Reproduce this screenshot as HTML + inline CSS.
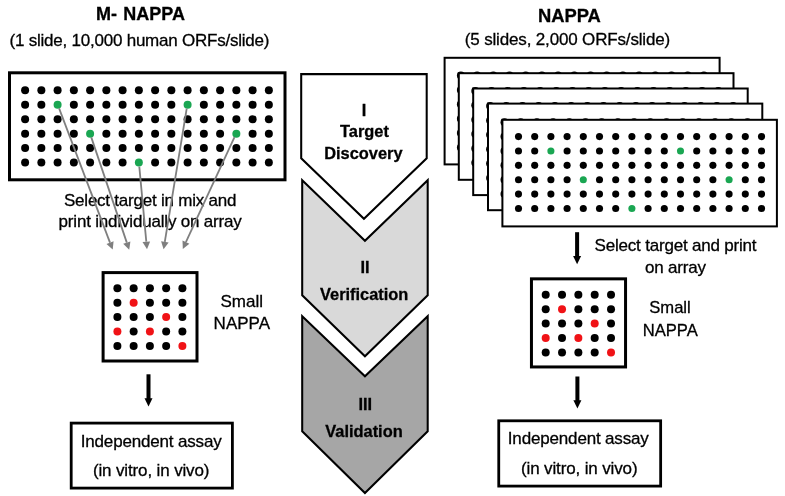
<!DOCTYPE html>
<html><head><meta charset="utf-8"><title>NAPPA</title>
<style>html,body{margin:0;padding:0;background:#fff;}svg{display:block;}text{font-family:"Liberation Sans",sans-serif;fill:#000;stroke:#000;stroke-width:0.3px;}</style></head>
<body>
<svg width="785" height="496" viewBox="0 0 785 496">
<defs><filter id="gs" x="0" y="0" width="785" height="496" filterUnits="userSpaceOnUse" color-interpolation-filters="sRGB"><feColorMatrix type="saturate" values="0"/></filter></defs>
<rect x="0" y="0" width="785" height="496" fill="#fff"/>
<rect x="9.5" y="72.8" width="275.5" height="107" fill="#fff" stroke="#000" stroke-width="3"/>
<g fill="#000"><circle cx="25.10" cy="90.20" r="4.0"/><circle cx="41.35" cy="90.20" r="4.0"/><circle cx="57.60" cy="90.20" r="4.0"/><circle cx="73.85" cy="90.20" r="4.0"/><circle cx="90.10" cy="90.20" r="4.0"/><circle cx="106.35" cy="90.20" r="4.0"/><circle cx="122.60" cy="90.20" r="4.0"/><circle cx="138.85" cy="90.20" r="4.0"/><circle cx="155.10" cy="90.20" r="4.0"/><circle cx="171.35" cy="90.20" r="4.0"/><circle cx="187.60" cy="90.20" r="4.0"/><circle cx="203.85" cy="90.20" r="4.0"/><circle cx="220.10" cy="90.20" r="4.0"/><circle cx="236.35" cy="90.20" r="4.0"/><circle cx="252.60" cy="90.20" r="4.0"/><circle cx="268.85" cy="90.20" r="4.0"/><circle cx="25.10" cy="104.68" r="4.0"/><circle cx="41.35" cy="104.68" r="4.0"/><circle cx="73.85" cy="104.68" r="4.0"/><circle cx="90.10" cy="104.68" r="4.0"/><circle cx="106.35" cy="104.68" r="4.0"/><circle cx="122.60" cy="104.68" r="4.0"/><circle cx="138.85" cy="104.68" r="4.0"/><circle cx="155.10" cy="104.68" r="4.0"/><circle cx="171.35" cy="104.68" r="4.0"/><circle cx="203.85" cy="104.68" r="4.0"/><circle cx="220.10" cy="104.68" r="4.0"/><circle cx="236.35" cy="104.68" r="4.0"/><circle cx="252.60" cy="104.68" r="4.0"/><circle cx="268.85" cy="104.68" r="4.0"/><circle cx="25.10" cy="119.16" r="4.0"/><circle cx="41.35" cy="119.16" r="4.0"/><circle cx="57.60" cy="119.16" r="4.0"/><circle cx="73.85" cy="119.16" r="4.0"/><circle cx="90.10" cy="119.16" r="4.0"/><circle cx="106.35" cy="119.16" r="4.0"/><circle cx="122.60" cy="119.16" r="4.0"/><circle cx="138.85" cy="119.16" r="4.0"/><circle cx="155.10" cy="119.16" r="4.0"/><circle cx="171.35" cy="119.16" r="4.0"/><circle cx="187.60" cy="119.16" r="4.0"/><circle cx="203.85" cy="119.16" r="4.0"/><circle cx="220.10" cy="119.16" r="4.0"/><circle cx="236.35" cy="119.16" r="4.0"/><circle cx="252.60" cy="119.16" r="4.0"/><circle cx="268.85" cy="119.16" r="4.0"/><circle cx="25.10" cy="133.64" r="4.0"/><circle cx="41.35" cy="133.64" r="4.0"/><circle cx="57.60" cy="133.64" r="4.0"/><circle cx="73.85" cy="133.64" r="4.0"/><circle cx="106.35" cy="133.64" r="4.0"/><circle cx="122.60" cy="133.64" r="4.0"/><circle cx="138.85" cy="133.64" r="4.0"/><circle cx="155.10" cy="133.64" r="4.0"/><circle cx="171.35" cy="133.64" r="4.0"/><circle cx="187.60" cy="133.64" r="4.0"/><circle cx="203.85" cy="133.64" r="4.0"/><circle cx="220.10" cy="133.64" r="4.0"/><circle cx="252.60" cy="133.64" r="4.0"/><circle cx="268.85" cy="133.64" r="4.0"/><circle cx="25.10" cy="148.12" r="4.0"/><circle cx="41.35" cy="148.12" r="4.0"/><circle cx="57.60" cy="148.12" r="4.0"/><circle cx="73.85" cy="148.12" r="4.0"/><circle cx="90.10" cy="148.12" r="4.0"/><circle cx="106.35" cy="148.12" r="4.0"/><circle cx="122.60" cy="148.12" r="4.0"/><circle cx="138.85" cy="148.12" r="4.0"/><circle cx="155.10" cy="148.12" r="4.0"/><circle cx="171.35" cy="148.12" r="4.0"/><circle cx="187.60" cy="148.12" r="4.0"/><circle cx="203.85" cy="148.12" r="4.0"/><circle cx="220.10" cy="148.12" r="4.0"/><circle cx="236.35" cy="148.12" r="4.0"/><circle cx="252.60" cy="148.12" r="4.0"/><circle cx="268.85" cy="148.12" r="4.0"/><circle cx="25.10" cy="162.60" r="4.0"/><circle cx="41.35" cy="162.60" r="4.0"/><circle cx="57.60" cy="162.60" r="4.0"/><circle cx="73.85" cy="162.60" r="4.0"/><circle cx="90.10" cy="162.60" r="4.0"/><circle cx="106.35" cy="162.60" r="4.0"/><circle cx="122.60" cy="162.60" r="4.0"/><circle cx="155.10" cy="162.60" r="4.0"/><circle cx="171.35" cy="162.60" r="4.0"/><circle cx="187.60" cy="162.60" r="4.0"/><circle cx="203.85" cy="162.60" r="4.0"/><circle cx="220.10" cy="162.60" r="4.0"/><circle cx="236.35" cy="162.60" r="4.0"/><circle cx="252.60" cy="162.60" r="4.0"/><circle cx="268.85" cy="162.60" r="4.0"/></g><circle cx="57.60" cy="104.68" r="4.0" fill="#1aa652"/><circle cx="187.60" cy="104.68" r="4.0" fill="#1aa652"/><circle cx="90.10" cy="133.64" r="4.0" fill="#1aa652"/><circle cx="236.35" cy="133.64" r="4.0" fill="#1aa652"/><circle cx="138.85" cy="162.60" r="4.0" fill="#1aa652"/>
<rect x="103.1" y="272.6" width="93.9" height="88.4" fill="#fff" stroke="#000" stroke-width="3"/>
<g fill="#000"><circle cx="117.40" cy="288.20" r="4.0"/><circle cx="133.65" cy="288.20" r="4.0"/><circle cx="149.90" cy="288.20" r="4.0"/><circle cx="166.15" cy="288.20" r="4.0"/><circle cx="182.40" cy="288.20" r="4.0"/><circle cx="117.40" cy="302.63" r="4.0"/><circle cx="149.90" cy="302.63" r="4.0"/><circle cx="166.15" cy="302.63" r="4.0"/><circle cx="182.40" cy="302.63" r="4.0"/><circle cx="117.40" cy="317.06" r="4.0"/><circle cx="133.65" cy="317.06" r="4.0"/><circle cx="149.90" cy="317.06" r="4.0"/><circle cx="182.40" cy="317.06" r="4.0"/><circle cx="133.65" cy="331.49" r="4.0"/><circle cx="166.15" cy="331.49" r="4.0"/><circle cx="182.40" cy="331.49" r="4.0"/><circle cx="117.40" cy="345.92" r="4.0"/><circle cx="133.65" cy="345.92" r="4.0"/><circle cx="149.90" cy="345.92" r="4.0"/><circle cx="166.15" cy="345.92" r="4.0"/></g><circle cx="133.65" cy="302.63" r="4.0" fill="#f01216"/><circle cx="166.15" cy="317.06" r="4.0" fill="#f01216"/><circle cx="117.40" cy="331.49" r="4.0" fill="#f01216"/><circle cx="149.90" cy="331.49" r="4.0" fill="#f01216"/><circle cx="182.40" cy="345.92" r="4.0" fill="#f01216"/>
<rect x="146.50" y="374.3" width="4.0" height="24.90" fill="#000"/><polygon points="148.5,406.6 144.5,398.20000000000005 152.5,398.20000000000005" fill="#000"/>
<rect x="71.2" y="423.1" width="161.2" height="65" fill="#fff" stroke="#000" stroke-width="2.8"/>
<polygon points="301.2,74.1 426.7,74.1 426.7,158.2 363.95,218.75 301.2,158.2" fill="#fff" stroke="#000" stroke-width="2.05" stroke-linejoin="miter"/>
<polygon points="302.2,180.2 364.95,240.85 427.7,180.2 427.7,295.2 364.95,356.25 302.2,295.2" fill="#d9d9d9" stroke="#000" stroke-width="2.05" stroke-linejoin="miter"/>
<polygon points="302.2,316.2 364.95,376.35 427.7,316.2 427.7,431.3 364.95,493 302.2,431.3" fill="#a6a6a6" stroke="#000" stroke-width="2.05" stroke-linejoin="miter"/>
<rect x="444.60" y="57.80" width="275.00" height="106.6" fill="#fff" stroke="#000" stroke-width="2"/>
<g fill="#000"><circle cx="460.90" cy="75.60" r="4.0"/><circle cx="477.10" cy="75.60" r="4.0"/><circle cx="493.30" cy="75.60" r="4.0"/><circle cx="509.50" cy="75.60" r="4.0"/><circle cx="525.70" cy="75.60" r="4.0"/><circle cx="541.90" cy="75.60" r="4.0"/><circle cx="558.10" cy="75.60" r="4.0"/><circle cx="574.30" cy="75.60" r="4.0"/><circle cx="590.50" cy="75.60" r="4.0"/><circle cx="606.70" cy="75.60" r="4.0"/><circle cx="622.90" cy="75.60" r="4.0"/><circle cx="639.10" cy="75.60" r="4.0"/><circle cx="655.30" cy="75.60" r="4.0"/><circle cx="671.50" cy="75.60" r="4.0"/><circle cx="687.70" cy="75.60" r="4.0"/><circle cx="703.90" cy="75.60" r="4.0"/><circle cx="460.90" cy="89.98" r="4.0"/><circle cx="477.10" cy="89.98" r="4.0"/><circle cx="509.50" cy="89.98" r="4.0"/><circle cx="525.70" cy="89.98" r="4.0"/><circle cx="541.90" cy="89.98" r="4.0"/><circle cx="558.10" cy="89.98" r="4.0"/><circle cx="574.30" cy="89.98" r="4.0"/><circle cx="590.50" cy="89.98" r="4.0"/><circle cx="606.70" cy="89.98" r="4.0"/><circle cx="639.10" cy="89.98" r="4.0"/><circle cx="655.30" cy="89.98" r="4.0"/><circle cx="671.50" cy="89.98" r="4.0"/><circle cx="687.70" cy="89.98" r="4.0"/><circle cx="703.90" cy="89.98" r="4.0"/><circle cx="460.90" cy="104.36" r="4.0"/><circle cx="477.10" cy="104.36" r="4.0"/><circle cx="493.30" cy="104.36" r="4.0"/><circle cx="509.50" cy="104.36" r="4.0"/><circle cx="525.70" cy="104.36" r="4.0"/><circle cx="541.90" cy="104.36" r="4.0"/><circle cx="558.10" cy="104.36" r="4.0"/><circle cx="574.30" cy="104.36" r="4.0"/><circle cx="590.50" cy="104.36" r="4.0"/><circle cx="606.70" cy="104.36" r="4.0"/><circle cx="622.90" cy="104.36" r="4.0"/><circle cx="639.10" cy="104.36" r="4.0"/><circle cx="655.30" cy="104.36" r="4.0"/><circle cx="671.50" cy="104.36" r="4.0"/><circle cx="687.70" cy="104.36" r="4.0"/><circle cx="703.90" cy="104.36" r="4.0"/><circle cx="460.90" cy="118.74" r="4.0"/><circle cx="477.10" cy="118.74" r="4.0"/><circle cx="493.30" cy="118.74" r="4.0"/><circle cx="509.50" cy="118.74" r="4.0"/><circle cx="541.90" cy="118.74" r="4.0"/><circle cx="558.10" cy="118.74" r="4.0"/><circle cx="574.30" cy="118.74" r="4.0"/><circle cx="590.50" cy="118.74" r="4.0"/><circle cx="606.70" cy="118.74" r="4.0"/><circle cx="622.90" cy="118.74" r="4.0"/><circle cx="639.10" cy="118.74" r="4.0"/><circle cx="655.30" cy="118.74" r="4.0"/><circle cx="687.70" cy="118.74" r="4.0"/><circle cx="703.90" cy="118.74" r="4.0"/><circle cx="460.90" cy="133.12" r="4.0"/><circle cx="477.10" cy="133.12" r="4.0"/><circle cx="493.30" cy="133.12" r="4.0"/><circle cx="509.50" cy="133.12" r="4.0"/><circle cx="525.70" cy="133.12" r="4.0"/><circle cx="541.90" cy="133.12" r="4.0"/><circle cx="558.10" cy="133.12" r="4.0"/><circle cx="574.30" cy="133.12" r="4.0"/><circle cx="590.50" cy="133.12" r="4.0"/><circle cx="606.70" cy="133.12" r="4.0"/><circle cx="622.90" cy="133.12" r="4.0"/><circle cx="639.10" cy="133.12" r="4.0"/><circle cx="655.30" cy="133.12" r="4.0"/><circle cx="671.50" cy="133.12" r="4.0"/><circle cx="687.70" cy="133.12" r="4.0"/><circle cx="703.90" cy="133.12" r="4.0"/><circle cx="460.90" cy="147.50" r="4.0"/><circle cx="477.10" cy="147.50" r="4.0"/><circle cx="493.30" cy="147.50" r="4.0"/><circle cx="509.50" cy="147.50" r="4.0"/><circle cx="525.70" cy="147.50" r="4.0"/><circle cx="541.90" cy="147.50" r="4.0"/><circle cx="558.10" cy="147.50" r="4.0"/><circle cx="590.50" cy="147.50" r="4.0"/><circle cx="606.70" cy="147.50" r="4.0"/><circle cx="622.90" cy="147.50" r="4.0"/><circle cx="639.10" cy="147.50" r="4.0"/><circle cx="655.30" cy="147.50" r="4.0"/><circle cx="671.50" cy="147.50" r="4.0"/><circle cx="687.70" cy="147.50" r="4.0"/><circle cx="703.90" cy="147.50" r="4.0"/></g><circle cx="493.30" cy="89.98" r="4.0" fill="#1aa652"/><circle cx="622.90" cy="89.98" r="4.0" fill="#1aa652"/><circle cx="525.70" cy="118.74" r="4.0" fill="#1aa652"/><circle cx="671.50" cy="118.74" r="4.0" fill="#1aa652"/><circle cx="574.30" cy="147.50" r="4.0" fill="#1aa652"/>
<rect x="458.80" y="73.20" width="274.70" height="106.6" fill="#fff" stroke="#000" stroke-width="2"/>
<g fill="#000"><circle cx="475.30" cy="90.90" r="4.0"/><circle cx="491.50" cy="90.90" r="4.0"/><circle cx="507.70" cy="90.90" r="4.0"/><circle cx="523.90" cy="90.90" r="4.0"/><circle cx="540.10" cy="90.90" r="4.0"/><circle cx="556.30" cy="90.90" r="4.0"/><circle cx="572.50" cy="90.90" r="4.0"/><circle cx="588.70" cy="90.90" r="4.0"/><circle cx="604.90" cy="90.90" r="4.0"/><circle cx="621.10" cy="90.90" r="4.0"/><circle cx="637.30" cy="90.90" r="4.0"/><circle cx="653.50" cy="90.90" r="4.0"/><circle cx="669.70" cy="90.90" r="4.0"/><circle cx="685.90" cy="90.90" r="4.0"/><circle cx="702.10" cy="90.90" r="4.0"/><circle cx="718.30" cy="90.90" r="4.0"/><circle cx="475.30" cy="105.28" r="4.0"/><circle cx="491.50" cy="105.28" r="4.0"/><circle cx="523.90" cy="105.28" r="4.0"/><circle cx="540.10" cy="105.28" r="4.0"/><circle cx="556.30" cy="105.28" r="4.0"/><circle cx="572.50" cy="105.28" r="4.0"/><circle cx="588.70" cy="105.28" r="4.0"/><circle cx="604.90" cy="105.28" r="4.0"/><circle cx="621.10" cy="105.28" r="4.0"/><circle cx="653.50" cy="105.28" r="4.0"/><circle cx="669.70" cy="105.28" r="4.0"/><circle cx="685.90" cy="105.28" r="4.0"/><circle cx="702.10" cy="105.28" r="4.0"/><circle cx="718.30" cy="105.28" r="4.0"/><circle cx="475.30" cy="119.66" r="4.0"/><circle cx="491.50" cy="119.66" r="4.0"/><circle cx="507.70" cy="119.66" r="4.0"/><circle cx="523.90" cy="119.66" r="4.0"/><circle cx="540.10" cy="119.66" r="4.0"/><circle cx="556.30" cy="119.66" r="4.0"/><circle cx="572.50" cy="119.66" r="4.0"/><circle cx="588.70" cy="119.66" r="4.0"/><circle cx="604.90" cy="119.66" r="4.0"/><circle cx="621.10" cy="119.66" r="4.0"/><circle cx="637.30" cy="119.66" r="4.0"/><circle cx="653.50" cy="119.66" r="4.0"/><circle cx="669.70" cy="119.66" r="4.0"/><circle cx="685.90" cy="119.66" r="4.0"/><circle cx="702.10" cy="119.66" r="4.0"/><circle cx="718.30" cy="119.66" r="4.0"/><circle cx="475.30" cy="134.04" r="4.0"/><circle cx="491.50" cy="134.04" r="4.0"/><circle cx="507.70" cy="134.04" r="4.0"/><circle cx="523.90" cy="134.04" r="4.0"/><circle cx="556.30" cy="134.04" r="4.0"/><circle cx="572.50" cy="134.04" r="4.0"/><circle cx="588.70" cy="134.04" r="4.0"/><circle cx="604.90" cy="134.04" r="4.0"/><circle cx="621.10" cy="134.04" r="4.0"/><circle cx="637.30" cy="134.04" r="4.0"/><circle cx="653.50" cy="134.04" r="4.0"/><circle cx="669.70" cy="134.04" r="4.0"/><circle cx="702.10" cy="134.04" r="4.0"/><circle cx="718.30" cy="134.04" r="4.0"/><circle cx="475.30" cy="148.42" r="4.0"/><circle cx="491.50" cy="148.42" r="4.0"/><circle cx="507.70" cy="148.42" r="4.0"/><circle cx="523.90" cy="148.42" r="4.0"/><circle cx="540.10" cy="148.42" r="4.0"/><circle cx="556.30" cy="148.42" r="4.0"/><circle cx="572.50" cy="148.42" r="4.0"/><circle cx="588.70" cy="148.42" r="4.0"/><circle cx="604.90" cy="148.42" r="4.0"/><circle cx="621.10" cy="148.42" r="4.0"/><circle cx="637.30" cy="148.42" r="4.0"/><circle cx="653.50" cy="148.42" r="4.0"/><circle cx="669.70" cy="148.42" r="4.0"/><circle cx="685.90" cy="148.42" r="4.0"/><circle cx="702.10" cy="148.42" r="4.0"/><circle cx="718.30" cy="148.42" r="4.0"/><circle cx="475.30" cy="162.80" r="4.0"/><circle cx="491.50" cy="162.80" r="4.0"/><circle cx="507.70" cy="162.80" r="4.0"/><circle cx="523.90" cy="162.80" r="4.0"/><circle cx="540.10" cy="162.80" r="4.0"/><circle cx="556.30" cy="162.80" r="4.0"/><circle cx="572.50" cy="162.80" r="4.0"/><circle cx="604.90" cy="162.80" r="4.0"/><circle cx="621.10" cy="162.80" r="4.0"/><circle cx="637.30" cy="162.80" r="4.0"/><circle cx="653.50" cy="162.80" r="4.0"/><circle cx="669.70" cy="162.80" r="4.0"/><circle cx="685.90" cy="162.80" r="4.0"/><circle cx="702.10" cy="162.80" r="4.0"/><circle cx="718.30" cy="162.80" r="4.0"/></g><circle cx="507.70" cy="105.28" r="4.0" fill="#1aa652"/><circle cx="637.30" cy="105.28" r="4.0" fill="#1aa652"/><circle cx="540.10" cy="134.04" r="4.0" fill="#1aa652"/><circle cx="685.90" cy="134.04" r="4.0" fill="#1aa652"/><circle cx="588.70" cy="162.80" r="4.0" fill="#1aa652"/>
<rect x="473.20" y="88.50" width="274.50" height="106.6" fill="#fff" stroke="#000" stroke-width="2"/>
<g fill="#000"><circle cx="490.10" cy="106.00" r="4.0"/><circle cx="506.30" cy="106.00" r="4.0"/><circle cx="522.50" cy="106.00" r="4.0"/><circle cx="538.70" cy="106.00" r="4.0"/><circle cx="554.90" cy="106.00" r="4.0"/><circle cx="571.10" cy="106.00" r="4.0"/><circle cx="587.30" cy="106.00" r="4.0"/><circle cx="603.50" cy="106.00" r="4.0"/><circle cx="619.70" cy="106.00" r="4.0"/><circle cx="635.90" cy="106.00" r="4.0"/><circle cx="652.10" cy="106.00" r="4.0"/><circle cx="668.30" cy="106.00" r="4.0"/><circle cx="684.50" cy="106.00" r="4.0"/><circle cx="700.70" cy="106.00" r="4.0"/><circle cx="716.90" cy="106.00" r="4.0"/><circle cx="733.10" cy="106.00" r="4.0"/><circle cx="490.10" cy="120.38" r="4.0"/><circle cx="506.30" cy="120.38" r="4.0"/><circle cx="538.70" cy="120.38" r="4.0"/><circle cx="554.90" cy="120.38" r="4.0"/><circle cx="571.10" cy="120.38" r="4.0"/><circle cx="587.30" cy="120.38" r="4.0"/><circle cx="603.50" cy="120.38" r="4.0"/><circle cx="619.70" cy="120.38" r="4.0"/><circle cx="635.90" cy="120.38" r="4.0"/><circle cx="668.30" cy="120.38" r="4.0"/><circle cx="684.50" cy="120.38" r="4.0"/><circle cx="700.70" cy="120.38" r="4.0"/><circle cx="716.90" cy="120.38" r="4.0"/><circle cx="733.10" cy="120.38" r="4.0"/><circle cx="490.10" cy="134.76" r="4.0"/><circle cx="506.30" cy="134.76" r="4.0"/><circle cx="522.50" cy="134.76" r="4.0"/><circle cx="538.70" cy="134.76" r="4.0"/><circle cx="554.90" cy="134.76" r="4.0"/><circle cx="571.10" cy="134.76" r="4.0"/><circle cx="587.30" cy="134.76" r="4.0"/><circle cx="603.50" cy="134.76" r="4.0"/><circle cx="619.70" cy="134.76" r="4.0"/><circle cx="635.90" cy="134.76" r="4.0"/><circle cx="652.10" cy="134.76" r="4.0"/><circle cx="668.30" cy="134.76" r="4.0"/><circle cx="684.50" cy="134.76" r="4.0"/><circle cx="700.70" cy="134.76" r="4.0"/><circle cx="716.90" cy="134.76" r="4.0"/><circle cx="733.10" cy="134.76" r="4.0"/><circle cx="490.10" cy="149.14" r="4.0"/><circle cx="506.30" cy="149.14" r="4.0"/><circle cx="522.50" cy="149.14" r="4.0"/><circle cx="538.70" cy="149.14" r="4.0"/><circle cx="571.10" cy="149.14" r="4.0"/><circle cx="587.30" cy="149.14" r="4.0"/><circle cx="603.50" cy="149.14" r="4.0"/><circle cx="619.70" cy="149.14" r="4.0"/><circle cx="635.90" cy="149.14" r="4.0"/><circle cx="652.10" cy="149.14" r="4.0"/><circle cx="668.30" cy="149.14" r="4.0"/><circle cx="684.50" cy="149.14" r="4.0"/><circle cx="716.90" cy="149.14" r="4.0"/><circle cx="733.10" cy="149.14" r="4.0"/><circle cx="490.10" cy="163.52" r="4.0"/><circle cx="506.30" cy="163.52" r="4.0"/><circle cx="522.50" cy="163.52" r="4.0"/><circle cx="538.70" cy="163.52" r="4.0"/><circle cx="554.90" cy="163.52" r="4.0"/><circle cx="571.10" cy="163.52" r="4.0"/><circle cx="587.30" cy="163.52" r="4.0"/><circle cx="603.50" cy="163.52" r="4.0"/><circle cx="619.70" cy="163.52" r="4.0"/><circle cx="635.90" cy="163.52" r="4.0"/><circle cx="652.10" cy="163.52" r="4.0"/><circle cx="668.30" cy="163.52" r="4.0"/><circle cx="684.50" cy="163.52" r="4.0"/><circle cx="700.70" cy="163.52" r="4.0"/><circle cx="716.90" cy="163.52" r="4.0"/><circle cx="733.10" cy="163.52" r="4.0"/><circle cx="490.10" cy="177.90" r="4.0"/><circle cx="506.30" cy="177.90" r="4.0"/><circle cx="522.50" cy="177.90" r="4.0"/><circle cx="538.70" cy="177.90" r="4.0"/><circle cx="554.90" cy="177.90" r="4.0"/><circle cx="571.10" cy="177.90" r="4.0"/><circle cx="587.30" cy="177.90" r="4.0"/><circle cx="619.70" cy="177.90" r="4.0"/><circle cx="635.90" cy="177.90" r="4.0"/><circle cx="652.10" cy="177.90" r="4.0"/><circle cx="668.30" cy="177.90" r="4.0"/><circle cx="684.50" cy="177.90" r="4.0"/><circle cx="700.70" cy="177.90" r="4.0"/><circle cx="716.90" cy="177.90" r="4.0"/><circle cx="733.10" cy="177.90" r="4.0"/></g><circle cx="522.50" cy="120.38" r="4.0" fill="#1aa652"/><circle cx="652.10" cy="120.38" r="4.0" fill="#1aa652"/><circle cx="554.90" cy="149.14" r="4.0" fill="#1aa652"/><circle cx="700.70" cy="149.14" r="4.0" fill="#1aa652"/><circle cx="603.50" cy="177.90" r="4.0" fill="#1aa652"/>
<rect x="488.00" y="103.60" width="274.30" height="106.6" fill="#fff" stroke="#000" stroke-width="2"/>
<g fill="#000"><circle cx="504.50" cy="122.20" r="4.0"/><circle cx="520.70" cy="122.20" r="4.0"/><circle cx="536.90" cy="122.20" r="4.0"/><circle cx="553.10" cy="122.20" r="4.0"/><circle cx="569.30" cy="122.20" r="4.0"/><circle cx="585.50" cy="122.20" r="4.0"/><circle cx="601.70" cy="122.20" r="4.0"/><circle cx="617.90" cy="122.20" r="4.0"/><circle cx="634.10" cy="122.20" r="4.0"/><circle cx="650.30" cy="122.20" r="4.0"/><circle cx="666.50" cy="122.20" r="4.0"/><circle cx="682.70" cy="122.20" r="4.0"/><circle cx="698.90" cy="122.20" r="4.0"/><circle cx="715.10" cy="122.20" r="4.0"/><circle cx="731.30" cy="122.20" r="4.0"/><circle cx="747.50" cy="122.20" r="4.0"/><circle cx="504.50" cy="136.58" r="4.0"/><circle cx="520.70" cy="136.58" r="4.0"/><circle cx="553.10" cy="136.58" r="4.0"/><circle cx="569.30" cy="136.58" r="4.0"/><circle cx="585.50" cy="136.58" r="4.0"/><circle cx="601.70" cy="136.58" r="4.0"/><circle cx="617.90" cy="136.58" r="4.0"/><circle cx="634.10" cy="136.58" r="4.0"/><circle cx="650.30" cy="136.58" r="4.0"/><circle cx="682.70" cy="136.58" r="4.0"/><circle cx="698.90" cy="136.58" r="4.0"/><circle cx="715.10" cy="136.58" r="4.0"/><circle cx="731.30" cy="136.58" r="4.0"/><circle cx="747.50" cy="136.58" r="4.0"/><circle cx="504.50" cy="150.96" r="4.0"/><circle cx="520.70" cy="150.96" r="4.0"/><circle cx="536.90" cy="150.96" r="4.0"/><circle cx="553.10" cy="150.96" r="4.0"/><circle cx="569.30" cy="150.96" r="4.0"/><circle cx="585.50" cy="150.96" r="4.0"/><circle cx="601.70" cy="150.96" r="4.0"/><circle cx="617.90" cy="150.96" r="4.0"/><circle cx="634.10" cy="150.96" r="4.0"/><circle cx="650.30" cy="150.96" r="4.0"/><circle cx="666.50" cy="150.96" r="4.0"/><circle cx="682.70" cy="150.96" r="4.0"/><circle cx="698.90" cy="150.96" r="4.0"/><circle cx="715.10" cy="150.96" r="4.0"/><circle cx="731.30" cy="150.96" r="4.0"/><circle cx="747.50" cy="150.96" r="4.0"/><circle cx="504.50" cy="165.34" r="4.0"/><circle cx="520.70" cy="165.34" r="4.0"/><circle cx="536.90" cy="165.34" r="4.0"/><circle cx="553.10" cy="165.34" r="4.0"/><circle cx="585.50" cy="165.34" r="4.0"/><circle cx="601.70" cy="165.34" r="4.0"/><circle cx="617.90" cy="165.34" r="4.0"/><circle cx="634.10" cy="165.34" r="4.0"/><circle cx="650.30" cy="165.34" r="4.0"/><circle cx="666.50" cy="165.34" r="4.0"/><circle cx="682.70" cy="165.34" r="4.0"/><circle cx="698.90" cy="165.34" r="4.0"/><circle cx="731.30" cy="165.34" r="4.0"/><circle cx="747.50" cy="165.34" r="4.0"/><circle cx="504.50" cy="179.72" r="4.0"/><circle cx="520.70" cy="179.72" r="4.0"/><circle cx="536.90" cy="179.72" r="4.0"/><circle cx="553.10" cy="179.72" r="4.0"/><circle cx="569.30" cy="179.72" r="4.0"/><circle cx="585.50" cy="179.72" r="4.0"/><circle cx="601.70" cy="179.72" r="4.0"/><circle cx="617.90" cy="179.72" r="4.0"/><circle cx="634.10" cy="179.72" r="4.0"/><circle cx="650.30" cy="179.72" r="4.0"/><circle cx="666.50" cy="179.72" r="4.0"/><circle cx="682.70" cy="179.72" r="4.0"/><circle cx="698.90" cy="179.72" r="4.0"/><circle cx="715.10" cy="179.72" r="4.0"/><circle cx="731.30" cy="179.72" r="4.0"/><circle cx="747.50" cy="179.72" r="4.0"/><circle cx="504.50" cy="194.10" r="4.0"/><circle cx="520.70" cy="194.10" r="4.0"/><circle cx="536.90" cy="194.10" r="4.0"/><circle cx="553.10" cy="194.10" r="4.0"/><circle cx="569.30" cy="194.10" r="4.0"/><circle cx="585.50" cy="194.10" r="4.0"/><circle cx="601.70" cy="194.10" r="4.0"/><circle cx="634.10" cy="194.10" r="4.0"/><circle cx="650.30" cy="194.10" r="4.0"/><circle cx="666.50" cy="194.10" r="4.0"/><circle cx="682.70" cy="194.10" r="4.0"/><circle cx="698.90" cy="194.10" r="4.0"/><circle cx="715.10" cy="194.10" r="4.0"/><circle cx="731.30" cy="194.10" r="4.0"/><circle cx="747.50" cy="194.10" r="4.0"/></g><circle cx="536.90" cy="136.58" r="4.0" fill="#1aa652"/><circle cx="666.50" cy="136.58" r="4.0" fill="#1aa652"/><circle cx="569.30" cy="165.34" r="4.0" fill="#1aa652"/><circle cx="715.10" cy="165.34" r="4.0" fill="#1aa652"/><circle cx="617.90" cy="194.10" r="4.0" fill="#1aa652"/>
<rect x="502.40" y="119.80" width="274.50" height="106.6" fill="#fff" stroke="#000" stroke-width="2"/>
<g fill="#000"><circle cx="518.50" cy="136.60" r="3.55"/><circle cx="534.70" cy="136.60" r="3.55"/><circle cx="550.90" cy="136.60" r="3.55"/><circle cx="567.10" cy="136.60" r="3.55"/><circle cx="583.30" cy="136.60" r="3.55"/><circle cx="599.50" cy="136.60" r="3.55"/><circle cx="615.70" cy="136.60" r="3.55"/><circle cx="631.90" cy="136.60" r="3.55"/><circle cx="648.10" cy="136.60" r="3.55"/><circle cx="664.30" cy="136.60" r="3.55"/><circle cx="680.50" cy="136.60" r="3.55"/><circle cx="696.70" cy="136.60" r="3.55"/><circle cx="712.90" cy="136.60" r="3.55"/><circle cx="729.10" cy="136.60" r="3.55"/><circle cx="745.30" cy="136.60" r="3.55"/><circle cx="761.50" cy="136.60" r="3.55"/><circle cx="518.50" cy="150.98" r="3.55"/><circle cx="534.70" cy="150.98" r="3.55"/><circle cx="567.10" cy="150.98" r="3.55"/><circle cx="583.30" cy="150.98" r="3.55"/><circle cx="599.50" cy="150.98" r="3.55"/><circle cx="615.70" cy="150.98" r="3.55"/><circle cx="631.90" cy="150.98" r="3.55"/><circle cx="648.10" cy="150.98" r="3.55"/><circle cx="664.30" cy="150.98" r="3.55"/><circle cx="696.70" cy="150.98" r="3.55"/><circle cx="712.90" cy="150.98" r="3.55"/><circle cx="729.10" cy="150.98" r="3.55"/><circle cx="745.30" cy="150.98" r="3.55"/><circle cx="761.50" cy="150.98" r="3.55"/><circle cx="518.50" cy="165.36" r="3.55"/><circle cx="534.70" cy="165.36" r="3.55"/><circle cx="550.90" cy="165.36" r="3.55"/><circle cx="567.10" cy="165.36" r="3.55"/><circle cx="583.30" cy="165.36" r="3.55"/><circle cx="599.50" cy="165.36" r="3.55"/><circle cx="615.70" cy="165.36" r="3.55"/><circle cx="631.90" cy="165.36" r="3.55"/><circle cx="648.10" cy="165.36" r="3.55"/><circle cx="664.30" cy="165.36" r="3.55"/><circle cx="680.50" cy="165.36" r="3.55"/><circle cx="696.70" cy="165.36" r="3.55"/><circle cx="712.90" cy="165.36" r="3.55"/><circle cx="729.10" cy="165.36" r="3.55"/><circle cx="745.30" cy="165.36" r="3.55"/><circle cx="761.50" cy="165.36" r="3.55"/><circle cx="518.50" cy="179.74" r="3.55"/><circle cx="534.70" cy="179.74" r="3.55"/><circle cx="550.90" cy="179.74" r="3.55"/><circle cx="567.10" cy="179.74" r="3.55"/><circle cx="599.50" cy="179.74" r="3.55"/><circle cx="615.70" cy="179.74" r="3.55"/><circle cx="631.90" cy="179.74" r="3.55"/><circle cx="648.10" cy="179.74" r="3.55"/><circle cx="664.30" cy="179.74" r="3.55"/><circle cx="680.50" cy="179.74" r="3.55"/><circle cx="696.70" cy="179.74" r="3.55"/><circle cx="712.90" cy="179.74" r="3.55"/><circle cx="745.30" cy="179.74" r="3.55"/><circle cx="761.50" cy="179.74" r="3.55"/><circle cx="518.50" cy="194.12" r="3.55"/><circle cx="534.70" cy="194.12" r="3.55"/><circle cx="550.90" cy="194.12" r="3.55"/><circle cx="567.10" cy="194.12" r="3.55"/><circle cx="583.30" cy="194.12" r="3.55"/><circle cx="599.50" cy="194.12" r="3.55"/><circle cx="615.70" cy="194.12" r="3.55"/><circle cx="631.90" cy="194.12" r="3.55"/><circle cx="648.10" cy="194.12" r="3.55"/><circle cx="664.30" cy="194.12" r="3.55"/><circle cx="680.50" cy="194.12" r="3.55"/><circle cx="696.70" cy="194.12" r="3.55"/><circle cx="712.90" cy="194.12" r="3.55"/><circle cx="729.10" cy="194.12" r="3.55"/><circle cx="745.30" cy="194.12" r="3.55"/><circle cx="761.50" cy="194.12" r="3.55"/><circle cx="518.50" cy="208.50" r="3.55"/><circle cx="534.70" cy="208.50" r="3.55"/><circle cx="550.90" cy="208.50" r="3.55"/><circle cx="567.10" cy="208.50" r="3.55"/><circle cx="583.30" cy="208.50" r="3.55"/><circle cx="599.50" cy="208.50" r="3.55"/><circle cx="615.70" cy="208.50" r="3.55"/><circle cx="648.10" cy="208.50" r="3.55"/><circle cx="664.30" cy="208.50" r="3.55"/><circle cx="680.50" cy="208.50" r="3.55"/><circle cx="696.70" cy="208.50" r="3.55"/><circle cx="712.90" cy="208.50" r="3.55"/><circle cx="729.10" cy="208.50" r="3.55"/><circle cx="745.30" cy="208.50" r="3.55"/><circle cx="761.50" cy="208.50" r="3.55"/></g><circle cx="550.90" cy="150.98" r="3.55" fill="#1aa652"/><circle cx="680.50" cy="150.98" r="3.55" fill="#1aa652"/><circle cx="583.30" cy="179.74" r="3.55" fill="#1aa652"/><circle cx="729.10" cy="179.74" r="3.55" fill="#1aa652"/><circle cx="631.90" cy="208.50" r="3.55" fill="#1aa652"/>
<rect x="575.10" y="232.2" width="4.0" height="24.70" fill="#000"/><polygon points="577.1,264.3 573.1,255.9 581.1,255.9" fill="#000"/>
<rect x="531.45" y="278.85" width="94.1" height="88.1" fill="#fff" stroke="#000" stroke-width="3"/>
<g fill="#000"><circle cx="545.70" cy="294.70" r="4.0"/><circle cx="562.03" cy="294.70" r="4.0"/><circle cx="578.36" cy="294.70" r="4.0"/><circle cx="594.69" cy="294.70" r="4.0"/><circle cx="611.02" cy="294.70" r="4.0"/><circle cx="545.70" cy="309.13" r="4.0"/><circle cx="578.36" cy="309.13" r="4.0"/><circle cx="594.69" cy="309.13" r="4.0"/><circle cx="611.02" cy="309.13" r="4.0"/><circle cx="545.70" cy="323.56" r="4.0"/><circle cx="562.03" cy="323.56" r="4.0"/><circle cx="578.36" cy="323.56" r="4.0"/><circle cx="611.02" cy="323.56" r="4.0"/><circle cx="562.03" cy="337.99" r="4.0"/><circle cx="594.69" cy="337.99" r="4.0"/><circle cx="611.02" cy="337.99" r="4.0"/><circle cx="545.70" cy="352.42" r="4.0"/><circle cx="562.03" cy="352.42" r="4.0"/><circle cx="578.36" cy="352.42" r="4.0"/><circle cx="594.69" cy="352.42" r="4.0"/></g><circle cx="562.03" cy="309.13" r="4.0" fill="#f01216"/><circle cx="594.69" cy="323.56" r="4.0" fill="#f01216"/><circle cx="545.70" cy="337.99" r="4.0" fill="#f01216"/><circle cx="578.36" cy="337.99" r="4.0" fill="#f01216"/><circle cx="611.02" cy="352.42" r="4.0" fill="#f01216"/>
<rect x="575.40" y="376.5" width="4.0" height="24.70" fill="#000"/><polygon points="577.4,408.6 573.4,400.20000000000005 581.4,400.20000000000005" fill="#000"/>
<rect x="498.75" y="420.8" width="161.9" height="65.3" fill="#fff" stroke="#000" stroke-width="2.8"/>
<g filter="url(#gs)">
<text x="140.5" y="20.4" text-anchor="middle" font-weight="bold" font-size="18" word-spacing="1.2">M- NAPPA</text>
<text x="139.5" y="46" text-anchor="middle" font-size="17" textLength="259.8" lengthAdjust="spacing">(1 slide, 10,000 human ORFs/slide)</text>
<text x="150.2" y="206" text-anchor="middle" font-size="17" textLength="172.4" lengthAdjust="spacing">Select target in mix and</text>
<text x="150.2" y="227" text-anchor="middle" font-size="17" textLength="183.3" lengthAdjust="spacing">print individually on array</text>
<text x="241.8" y="307" text-anchor="middle" font-size="17">Small</text>
<text x="241.8" y="329" text-anchor="middle" font-size="17">NAPPA</text>
<text x="151.2" y="447" text-anchor="middle" font-size="17" textLength="141.0" lengthAdjust="spacing">Independent assay</text>
<text x="151.2" y="476" text-anchor="middle" font-size="17" textLength="116.5" lengthAdjust="spacing">(in vitro, in vivo)</text>
<text x="364.1" y="116.0" text-anchor="middle" font-weight="bold" font-size="16.4">I</text>
<text x="364.5" y="137.2" text-anchor="middle" font-weight="bold" font-size="16.4">Target</text>
<text x="363.4" y="159.3" text-anchor="middle" font-weight="bold" font-size="16.4">Discovery</text>
<text x="365.0" y="273.2" text-anchor="middle" font-weight="bold" font-size="16.4">II</text>
<text x="364.2" y="300.4" text-anchor="middle" font-weight="bold" font-size="16.4">Verification</text>
<text x="365.3" y="410" text-anchor="middle" font-weight="bold" font-size="16.4">III</text>
<text x="364.0" y="437" text-anchor="middle" font-weight="bold" font-size="16.4">Validation</text>
<text x="569.4" y="22" text-anchor="middle" font-weight="bold" font-size="18.4">NAPPA</text>
<text x="567.5" y="45" text-anchor="middle" font-size="17" textLength="205.5" lengthAdjust="spacing">(5 slides, 2,000 ORFs/slide)</text>
<text x="675.6" y="251" text-anchor="middle" font-size="17" textLength="162.0" lengthAdjust="spacing">Select target and print</text>
<text x="675.4" y="273" text-anchor="middle" font-size="17" textLength="61.0" lengthAdjust="spacing">on array</text>
<text x="670" y="313" text-anchor="middle" font-size="16.6">Small</text>
<text x="670.2" y="336" text-anchor="middle" font-size="16.6">NAPPA</text>
<text x="578.3" y="444" text-anchor="middle" font-size="17" textLength="141.0" lengthAdjust="spacing">Independent assay</text>
<text x="579.3" y="474" text-anchor="middle" font-size="17" textLength="116.5" lengthAdjust="spacing">(in vitro, in vivo)</text>
</g>
<line x1="59.1" y1="108.4" x2="110.0" y2="242.6" stroke="#7f7f7f" stroke-width="1.8"/>
<polygon points="112.7,249.6 106.5,243.9 113.6,241.2" fill="#7f7f7f"/>
<line x1="91.3" y1="137.4" x2="126.8" y2="242.6" stroke="#7f7f7f" stroke-width="1.8"/>
<polygon points="129.2,249.7 123.2,243.8 130.4,241.4" fill="#7f7f7f"/>
<line x1="139.3" y1="166.6" x2="146.3" y2="241.7" stroke="#7f7f7f" stroke-width="1.8"/>
<polygon points="147.0,249.2 142.5,242.1 150.1,241.4" fill="#7f7f7f"/>
<line x1="186.7" y1="108.6" x2="164.8" y2="241.8" stroke="#7f7f7f" stroke-width="1.8"/>
<polygon points="163.6,249.2 161.1,241.2 168.6,242.4" fill="#7f7f7f"/>
<line x1="234.5" y1="137.2" x2="185.9" y2="242.2" stroke="#7f7f7f" stroke-width="1.8"/>
<polygon points="182.8,249.0 182.5,240.6 189.4,243.8" fill="#7f7f7f"/>
</svg>
</body></html>
